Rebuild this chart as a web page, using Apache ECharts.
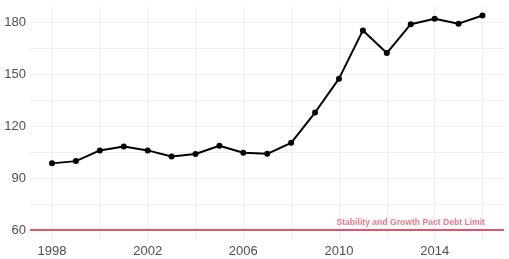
<!DOCTYPE html>
<html><head><meta charset="utf-8">
<script src="https://cdn.jsdelivr.net/npm/echarts@6/dist/echarts.min.js"></script>
<style>html,body{margin:0;padding:0;background:#fff}#c{width:509px;height:259px}</style>
</head><body><div id="c"></div>
<script>
const years = [1998,1999,2000,2001,2002,2003,2004,2005,2006,2007,2008,2009,2010,2011,2012,2013,2014,2015,2016];
const debt = [98.5,99.8,106.0,108.3,106.0,102.5,103.9,108.7,104.6,104.0,110.4,127.9,147.5,175.4,162.3,179.0,182.1,179.3,184.0];
const limitValue = 60;
const limitLabel = 'Stability and Growth Pact Debt Limit';
const limitLabelYear = 2013;
const xGridValues = [1998,2000,2002,2004,2006,2008,2010,2012,2014,2016];
const xTickLabels = [1998,2002,2006,2010,2014];
const yGridValues = [60,75,90,105,120,135,150,165,180];
const yTickLabels = [60,90,120,150,180];

const chart = echarts.init(document.getElementById('c'), null, {renderer:'canvas'});
const gridColor = '#f1f1f1';
const textColor = '#4d4d4d';
const red = '#e5526b';
const font = 'Liberation Sans, Arial, sans-serif';
chart.setOption({
  animation:false,
  backgroundColor:'#fff',
  grid:{left:30,right:5,top:5,bottom:18,containLabel:false},
  xAxis:{type:'value',min:1997.08,max:2016.9,
    axisLine:{show:false},
    axisTick:{show:false,customValues:xGridValues},
    axisLabel:{customValues:xTickLabels,formatter:v=>String(v),color:textColor,fontSize:13,fontFamily:font,margin:4},
    splitLine:{show:true,lineStyle:{color:gridColor,width:1}}
  },
  yAxis:{type:'value',min:53.6,max:190.1,
    axisLine:{show:false},
    axisTick:{show:false,customValues:yGridValues},
    axisLabel:{customValues:yTickLabels,formatter:v=>String(v),color:textColor,fontSize:13,fontFamily:font,margin:4},
    splitLine:{show:true,lineStyle:{color:gridColor,width:1}}
  },
  series:[
    {type:'line',data:years.map((y,i)=>[y,debt[i]]),
     lineStyle:{color:'#000',width:2},itemStyle:{color:'#000'},
     symbol:'circle',symbolSize:6,showSymbol:true,z:5,
     markLine:{silent:true,symbol:'none',label:{show:false},
       lineStyle:{color:red,width:2,type:'solid'},
       data:[{yAxis:limitValue}]}
    },
    {type:'scatter',data:[[limitLabelYear,limitValue]],symbolSize:0,z:6,
     label:{show:true,position:'top',distance:3,formatter:limitLabel,color:red,fontWeight:'bold',fontSize:8.6,fontFamily:font}
    }
  ]
});
</script></body></html>
